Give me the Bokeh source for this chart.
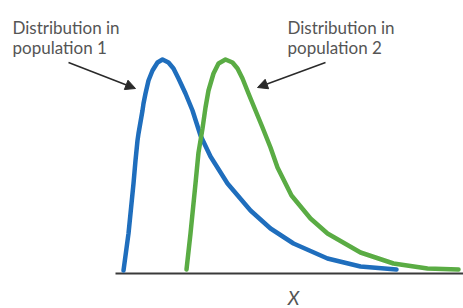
from bokeh.plotting import figure
from bokeh.models import Arrow, NormalHead
from bokeh.core.properties import value
from bokeh.embed import file_html
from bokeh.resources import INLINE

# Curve values (x along the X axis, density above the axis)
pop1_x = [8, 13, 18, 20, 21, 22, 23, 27, 28, 30, 33, 37, 42, 47, 53, 58, 63, 70, 77, 85, 95, 112, 135, 155, 178, 212, 245, 281]
pop1_y = [3, 40, 90, 113, 123, 133, 140, 163, 170, 180, 193, 203, 211, 214, 211, 205, 195, 180, 163, 138, 117, 90, 63, 45, 30, 15, 7, 4]

pop2_x = [71, 75, 80, 83, 87, 90, 93, 98, 103, 110, 117, 122, 127, 133, 140, 147, 155, 162, 176, 195, 212, 245, 278, 312, 343]
pop2_y = [4, 40, 90, 121, 145, 166, 183, 200, 210, 214, 211, 205, 195, 180, 163, 146, 126, 106, 78, 55, 40, 21, 10, 5, 4]

axis_extent = [0, 348]

label1_lines = ["Distribution in", "population 1"]
label2_lines = ["Distribution in", "population 2"]
label1_x = -103
label2_x = 172
label_baselines = [246, 226]

arrow1 = dict(x_start=-47, y_start=211, x_end=20, y_end=185)
arrow2 = dict(x_start=210, y_start=211, x_end=142, y_end=186)

axis_label = "X"
axis_label_pos = (178, -24)

p = figure(width=463, height=308, x_range=(-115, 348), y_range=(-35, 273),
           output_backend="svg", toolbar_location=None, min_border=0)
p.axis.visible = False
p.grid.visible = False
p.outline_line_color = None
p.background_fill_color = "white"

# baseline axis
p.segment(x0=[axis_extent[0]], y0=[0], x1=[axis_extent[1]], y1=[0],
          line_color="#3a3a3a", line_width=2)

p.line(pop1_x, pop1_y, line_color="#1f6ebd", line_width=4.5, line_join="round", line_cap="round")
p.line(pop2_x, pop2_y, line_color="#5aac44", line_width=4.5, line_join="round", line_cap="round")

font = value("Lato")
p.text(x=[label1_x, label1_x], y=label_baselines, text=label1_lines,
       text_font=font, text_font_size="17px", text_color="#555555",
       text_baseline="alphabetic", text_align="left")
p.text(x=[label2_x, label2_x], y=label_baselines, text=label2_lines,
       text_font=font, text_font_size="17px", text_color="#555555",
       text_baseline="alphabetic", text_align="left")

p.text(x=[axis_label_pos[0]], y=[axis_label_pos[1]], text=[axis_label],
       text_font=font, text_font_size="19px", text_font_style="italic",
       text_color="#555555", text_baseline="middle", text_align="center")

for a in (arrow1, arrow2):
    p.add_layout(Arrow(end=NormalHead(size=10, fill_color="#2a2a2a", line_color="#2a2a2a"),
                       line_color="#2a2a2a", line_width=1.5, **a))

open("out.html", "w").write(file_html(p, INLINE))
